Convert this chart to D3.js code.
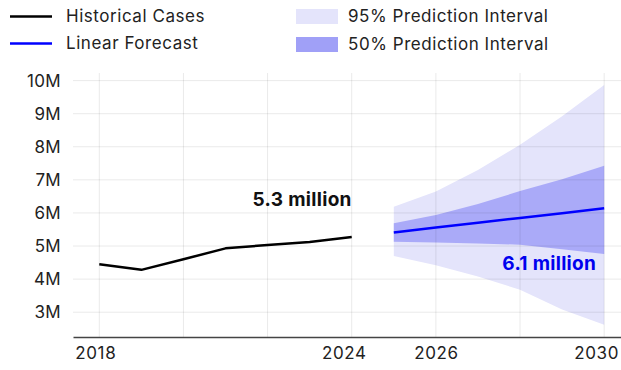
<!DOCTYPE html>
<html>
<head>
<meta charset="utf-8">
<script src="https://cdn.jsdelivr.net/npm/d3@7"></script>
<style>
  html, body { margin: 0; padding: 0; background: #fff; }
  svg { display: block; font-family: Inter, "Noto Sans", sans-serif; }
</style>
</head>
<body>
<svg id="chart" width="621" height="370"></svg>
<script>
// Historical cases (millions)
const histYears = [2018, 2019, 2020, 2021, 2022, 2023, 2024];
const histCases = [4.45, 4.28, 4.60, 4.93, 5.03, 5.12, 5.27];

// Linear forecast with prediction intervals (millions)
const fcYears = [2025, 2026, 2027, 2028, 2029, 2030];
const fcCases = [5.41, 5.56, 5.70, 5.85, 5.99, 6.14];
const lo50 = [5.13, 5.11, 5.08, 5.04, 4.90, 4.76];
const hi50 = [5.69, 5.94, 6.27, 6.66, 7.02, 7.43];
const lo95 = [4.70, 4.42, 4.08, 3.68, 3.08, 2.62];
const hi95 = [6.19, 6.65, 7.30, 8.06, 8.92, 9.87];

// Axis ticks
const xTickLabels = [2018, 2024, 2026, 2030];
const xGridYears = [2018, 2020, 2022, 2024, 2026, 2028, 2030];
const yTicks = [3, 4, 5, 6, 7, 8, 9, 10];

// Annotations
const lastHistLabel = "5.3 million";
const lastFcLabel = "6.1 million";

const svg = d3.select("#chart");
const plot = { left: 73, right: 621, top: 73, bottom: 337 };
const FONT = "Inter, sans-serif";

const x = d3.scaleLinear().domain([2017.375, 2030.4]).range([plot.left, plot.right]);
const y = d3.scaleLinear().domain([2.25, 10.23]).range([plot.bottom, plot.top]);

const fc = fcYears.map((yr, i) => ({
  yr, v: fcCases[i], lo50: lo50[i], hi50: hi50[i], lo95: lo95[i], hi95: hi95[i]
}));
const hist = histYears.map((yr, i) => ({ yr, v: histCases[i] }));

// Prediction bands
svg.append("path").datum(fc)
  .attr("fill", "#e4e4fb")
  .attr("d", d3.area().x(d => x(d.yr)).y0(d => y(d.lo95)).y1(d => y(d.hi95)));
svg.append("path").datum(fc)
  .attr("fill", "#aaaaf8")
  .attr("d", d3.area().x(d => x(d.yr)).y0(d => y(d.lo50)).y1(d => y(d.hi50)));

// Grid
const grid = svg.append("g").attr("stroke", "rgba(0,0,0,0.085)").attr("stroke-width", 1);
grid.selectAll("line.h").data(yTicks).join("line")
  .attr("x1", plot.left).attr("x2", plot.right)
  .attr("y1", d => y(d)).attr("y2", d => y(d));
grid.selectAll("line.v").data(xGridYears).join("line")
  .attr("x1", d => x(d)).attr("x2", d => x(d))
  .attr("y1", plot.top).attr("y2", plot.bottom);

// Y axis labels
const yAxis = svg.append("g")
  .attr("transform", `translate(${plot.left},0)`)
  .call(d3.axisLeft(y).tickValues(yTicks).tickSize(0).tickPadding(12).tickFormat(d => d + "M"));
yAxis.select(".domain").remove();
yAxis.selectAll("text").attr("font-size", 17).attr("fill", "#222").attr("font-family", FONT)
  .attr("letter-spacing", 0.3);

// X axis
const xAxis = svg.append("g")
  .attr("transform", `translate(0,${plot.bottom})`)
  .call(d3.axisBottom(x).tickValues(xTickLabels).tickSize(0).tickPadding(10).tickFormat(d3.format("d")));
xAxis.select(".domain").attr("stroke", "#444").attr("stroke-width", 1.5);
const labelNudge = { 2018: -4, 2024: -8, 2026: 0, 2030: -8 };
xAxis.selectAll("text")
  .attr("font-size", 17).attr("fill", "#222").attr("font-family", FONT)
  .attr("letter-spacing", 0.6)
  .attr("dx", d => labelNudge[d]);

// Lines
svg.append("path").datum(hist)
  .attr("fill", "none").attr("stroke", "#000").attr("stroke-width", 2.5)
  .attr("stroke-linejoin", "round")
  .attr("d", d3.line().x(d => x(d.yr)).y(d => y(d.v)));
svg.append("path").datum(fc)
  .attr("fill", "none").attr("stroke", "#0000ff").attr("stroke-width", 2.5)
  .attr("d", d3.line().x(d => x(d.yr)).y(d => y(d.v)));

// Value annotations
const lastH = hist[hist.length - 1];
svg.append("text")
  .attr("x", x(lastH.yr)).attr("y", y(lastH.v) - 31)
  .attr("text-anchor", "end").attr("font-size", 19).attr("font-weight", 700)
  .attr("letter-spacing", 0.3)
  .attr("fill", "#111").text(lastHistLabel);
const lastF = fc[fc.length - 1];
svg.append("text")
  .attr("x", x(lastF.yr) - 8).attr("y", y(lastF.v) + 62)
  .attr("text-anchor", "end").attr("font-size", 19).attr("font-weight", 700)
  .attr("letter-spacing", 0.3)
  .attr("fill", "#0000ee").text(lastFcLabel);

// Legend
const legend = svg.append("g").attr("font-size", 17).attr("fill", "#222")
  .attr("letter-spacing", 0.55);
const lineItems = [
  { label: "Historical Cases", color: "#000", cy: 16.5 },
  { label: "Linear Forecast", color: "#0000ff", cy: 43.5 }
];
lineItems.forEach(it => {
  legend.append("line").attr("x1", 10).attr("x2", 52).attr("y1", it.cy).attr("y2", it.cy)
    .attr("stroke", it.color).attr("stroke-width", 2.5);
  legend.append("text").attr("x", 66).attr("y", it.cy).attr("dy", "0.35em").text(it.label);
});
const boxItems = [
  { label: "95% Prediction Interval", color: "#e4e4fb", cy: 16.5 },
  { label: "50% Prediction Interval", color: "#a0a0f7", cy: 44.5 }
];
boxItems.forEach(it => {
  legend.append("rect").attr("x", 296).attr("y", it.cy - 7.5).attr("width", 42).attr("height", 15)
    .attr("fill", it.color);
  legend.append("text").attr("x", 348).attr("y", it.cy).attr("dy", "0.35em").text(it.label);
});
</script>
</body>
</html>
